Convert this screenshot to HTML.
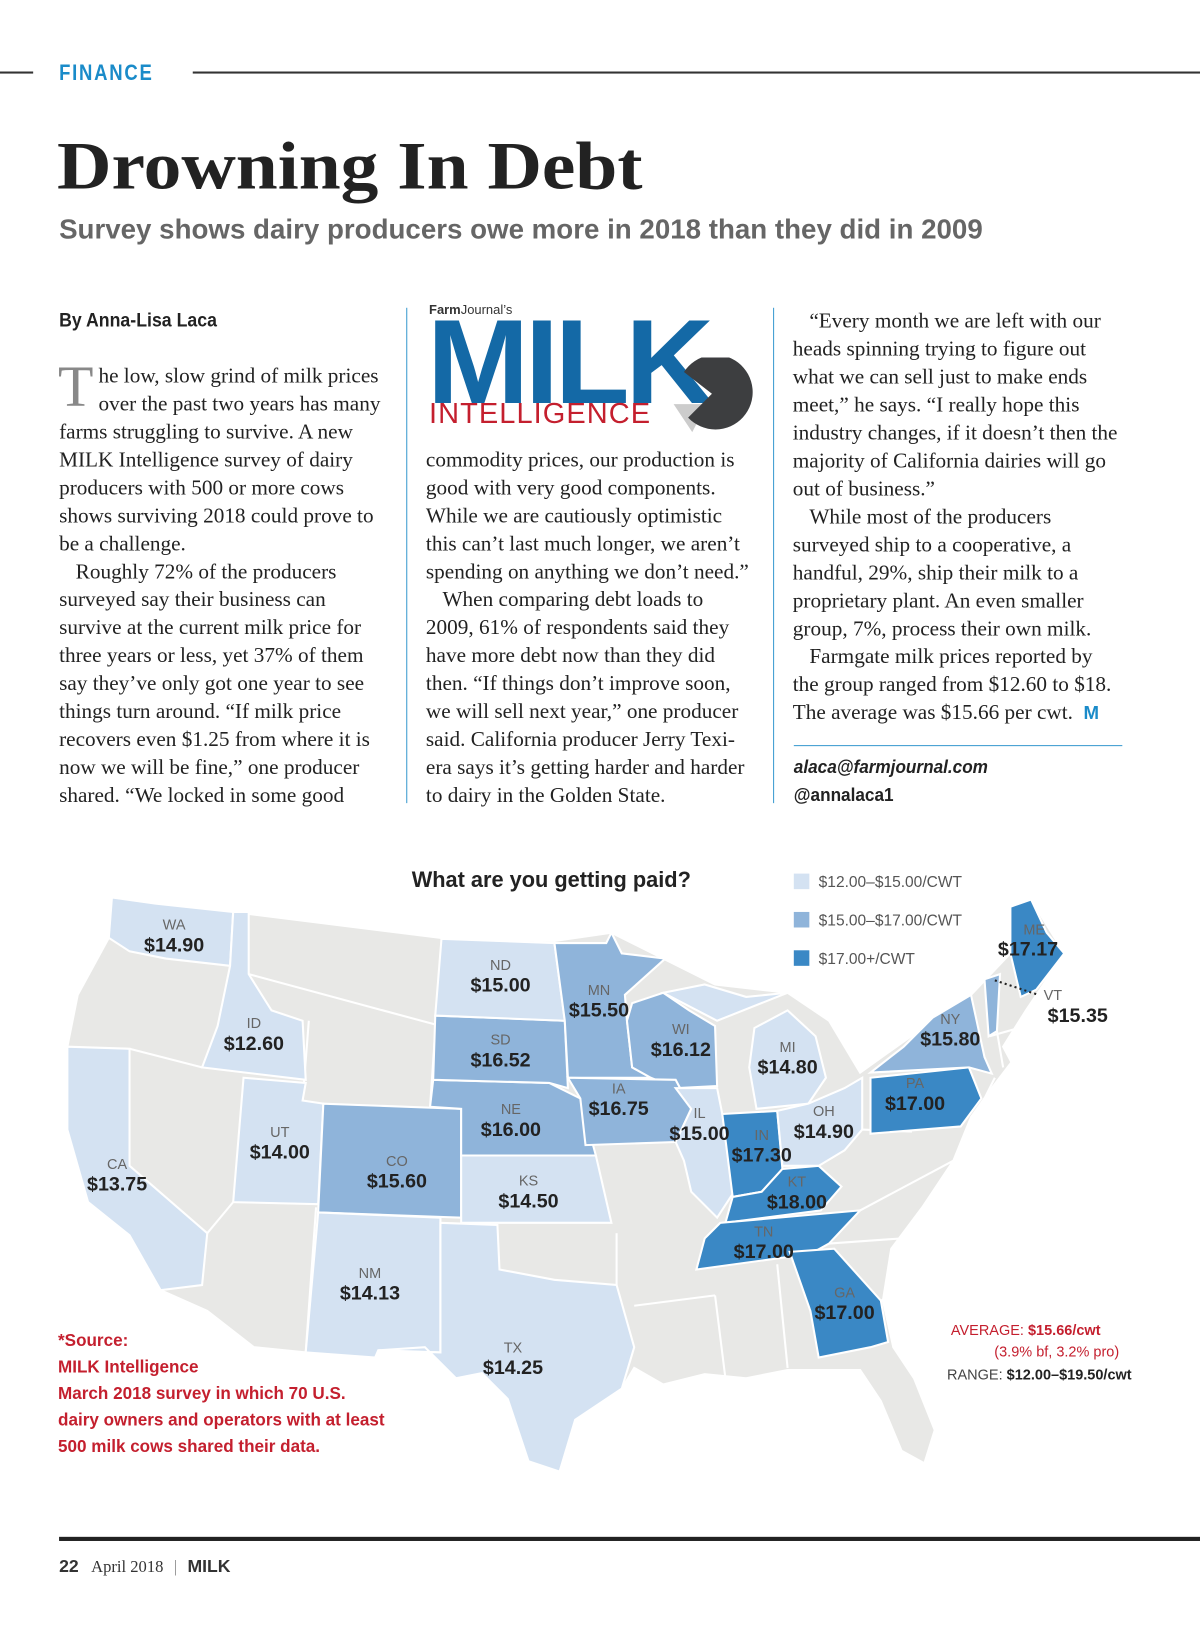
<!DOCTYPE html>
<html><head><meta charset="utf-8"><style>
html,body{margin:0;padding:0;background:#fff;}
body{width:1200px;height:1625px;overflow:hidden;position:relative;}
#page{position:absolute;left:0;top:0;width:1158px;height:1568px;transform:scale(1.0363);transform-origin:0 0;}
.abs{position:absolute;}
.serif{font-family:"Liberation Serif",serif;}
.sans{font-family:"Liberation Sans",sans-serif;}
.col{position:absolute;font-family:"Liberation Serif",serif;font-size:20.5px;line-height:27px;color:#222;white-space:nowrap;}
.col div{height:27px;}
.ind{padding-left:16px;}
</style></head><body>
<div id="page">
  <div class="abs" style="left:0;top:69px;width:32px;height:2px;background:#333"></div>
  <div class="abs sans" style="left:57px;top:59px;font-size:21px;letter-spacing:2px;color:#1a8bc9;font-weight:bold;transform:scaleX(0.85);transform-origin:0 0">FINANCE</div>
  <div class="abs" style="left:186px;top:69px;width:972px;height:2px;background:#333"></div>

  <div class="abs serif" style="left:55px;top:124px;font-size:65px;font-weight:bold;color:#222;letter-spacing:0px;transform:scaleX(1.12);transform-origin:0 0;white-space:nowrap">Drowning In Debt</div>
  <div class="abs sans" style="left:57px;top:206px;font-size:27px;color:#666;font-weight:bold;transform:scaleX(0.99);transform-origin:0 0;white-space:nowrap">Survey shows dairy producers owe more in 2018 than they did in 2009</div>

  <div class="abs sans" style="left:57px;top:299px;font-size:19px;font-weight:bold;color:#222;transform:scaleX(0.9);transform-origin:0 0">By Anna-Lisa Laca</div>

  <div class="abs" style="left:392px;top:297px;width:1px;height:478px;background:#3a9ad0"></div>
  <div class="abs" style="left:746px;top:297px;width:1px;height:478px;background:#3a9ad0"></div>

  <div class="col" style="left:57px;top:350px">
    <div><span class="serif" style="position:absolute;left:-1px;top:-4px;font-size:56px;line-height:56px;color:#888">T</span><span style="padding-left:38px">he low, slow grind of milk prices</span></div>
    <div style="padding-left:38px">over the past two years has many</div>
    <div>farms struggling to survive. A new</div>
    <div>MILK Intelligence survey of dairy</div>
    <div>producers with 500 or more cows</div>
    <div>shows surviving 2018 could prove to</div>
    <div>be a challenge.</div>
    <div class="ind">Roughly 72% of the producers</div>
    <div>surveyed say their business can</div>
    <div>survive at the current milk price for</div>
    <div>three years or less, yet 37% of them</div>
    <div>say they’ve only got one year to see</div>
    <div>things turn around. “If milk price</div>
    <div>recovers even $1.25 from where it is</div>
    <div>now we will be fine,” one producer</div>
    <div>shared. “We locked in some good</div>
  </div>

  <div class="abs" style="left:412px;top:290px;width:320px;height:130px">
    <div class="abs sans" style="left:2px;top:2px;font-size:12.5px;color:#333"><b>Farm</b>Journal’s</div>
    <div class="abs sans" style="left:0;top:-8px;font-size:116px;font-weight:900;color:#1469a6;letter-spacing:-4px;transform:scaleX(1.02);transform-origin:0 0">MILK</div>
    <div class="abs sans" style="left:2px;top:93px;font-size:28px;color:#c41f2e;letter-spacing:1px">INTELLIGENCE</div>
    <svg class="abs" style="left:230px;top:55px" width="90" height="80">
      <polygon points="8,45 40,45 26,72" fill="#ccc"/>
      <path d="M45,35 L18,14 A36,36 0 1,1 22,58 Z" fill="#3d3e40"/>
    </svg>
  </div>

  <div class="col" style="left:411px;top:431px">
    <div>commodity prices, our production is</div>
    <div>good with very good components.</div>
    <div>While we are cautiously optimistic</div>
    <div>this can’t last much longer, we aren’t</div>
    <div>spending on anything we don’t need.”</div>
    <div class="ind">When comparing debt loads to</div>
    <div>2009, 61% of respondents said they</div>
    <div>have more debt now than they did</div>
    <div>then. “If things don’t improve soon,</div>
    <div>we will sell next year,” one producer</div>
    <div>said. California producer Jerry Texi-</div>
    <div>era says it’s getting harder and harder</div>
    <div>to dairy in the Golden State.</div>
  </div>

  <div class="col" style="left:765px;top:297px">
    <div class="ind">“Every month we are left with our</div>
    <div>heads spinning trying to figure out</div>
    <div>what we can sell just to make ends</div>
    <div>meet,” he says. “I really hope this</div>
    <div>industry changes, if it doesn’t then the</div>
    <div>majority of California dairies will go</div>
    <div>out of business.”</div>
    <div class="ind">While most of the producers</div>
    <div>surveyed ship to a cooperative, a</div>
    <div>handful, 29%, ship their milk to a</div>
    <div>proprietary plant. An even smaller</div>
    <div>group, 7%, process their own milk.</div>
    <div class="ind">Farmgate milk prices reported by</div>
    <div>the group ranged from $12.60 to $18.</div>
    <div>The average was $15.66 per cwt. <b class="sans" style="color:#1a8bc9;font-size:18px">&nbsp;M</b></div>
  </div>
  <div class="abs" style="left:766px;top:719px;width:317px;height:1px;background:#3a9ad0"></div>
  <div class="abs sans" style="left:766px;top:730px;font-size:18px;font-weight:bold;font-style:italic;color:#222;transform:scaleX(0.92);transform-origin:0 0">alaca@farmjournal.com</div>
  <div class="abs sans" style="left:766px;top:757px;font-size:18px;font-weight:bold;color:#222;transform:scaleX(0.92);transform-origin:0 0">@annalaca1</div>

  <svg class="abs" id="map" style="left:0;top:0" width="1158" height="1568"></svg>

  <div class="abs" style="left:57px;top:1483px;width:1101px;height:4px;background:#222"></div>
  <div class="abs" style="left:57px;top:1502px;font-size:16px;color:#333;white-space:nowrap">
    <b class="sans" style="font-size:17px">22</b> <span class="serif" style="margin-left:8px">April 2018</span> <span style="color:#888;margin:0 6px">|</span> <b class="sans" style="font-size:17px;font-weight:900">MILK</b>
  </div>
</div>
<script>
const states = ["WA","ID","CA","UT","CO","NM","TX","KS","NE","SD","ND","MN","WI","IA","IL","IN","MI","OH","KT","TN","GA","PA","NY","VT","ME"];
const prices = [14.90,12.60,13.75,14.00,15.60,14.13,14.25,14.50,16.00,16.52,15.00,15.50,16.12,16.75,15.00,17.30,14.80,14.90,18.00,17.00,17.00,17.00,15.80,15.35,17.17];
const binEdges = [15.00,17.00];
const binLabels = ["$12.00–$15.00/CWT","$15.00–$17.00/CWT","$17.00+/CWT"];
const binColors = ["#d4e2f2","#8fb4da","#3a88c5"];

const shapes = {
 WA:"108,866 150,872 225,880 222,932 160,925 125,918 105,905",
 ID:"225,880 240,880 240,940 262,975 292,985 295,1042 195,1030 210,990 222,932",
 CA:"65,1010 125,1012 125,1125 200,1190 195,1240 155,1245 125,1192 85,1160 65,1090",
 UT:"235,1040 295,1045 292,1062 312,1065 307,1162 225,1160",
 CO:"312,1065 445,1070 445,1175 307,1170",
 NM:"307,1170 425,1175 425,1305 365,1303 362,1310 295,1305",
 TX:"425,1180 480,1182 482,1225 535,1235 595,1240 612,1300 600,1340 555,1370 540,1420 510,1410 490,1350 465,1325 440,1330 410,1300 365,1303 425,1305",
 KS:"445,1115 575,1115 590,1180 445,1180",
 NE:"418,1042 530,1045 560,1060 575,1115 445,1115 445,1070 415,1068",
 SD:"420,980 545,985 548,1050 530,1045 418,1042",
 ND:"426,906 535,910 545,985 420,980",
 MN:"535,910 585,910 590,900 600,920 642,925 603,960 605,985 610,1030 628,1040 548,1040 545,985",
 WI:"610,968 640,958 665,975 690,990 692,1048 652,1050 628,1040 610,1030 605,985",
 IA:"548,1040 652,1042 667,1070 652,1102 565,1105 560,1060",
 IL:"652,1050 692,1050 697,1075 707,1152 692,1175 667,1150 660,1120 652,1102 667,1070",
 IN:"697,1075 750,1072 755,1128 735,1150 707,1155",
 MI:"728,992 760,975 787,1000 797,1040 780,1065 730,1070 723,1030 M640,958 680,950 720,962 760,958 692,985",
 OH:"750,1072 780,1065 815,1050 832,1040 832,1090 815,1110 790,1125 755,1125",
 KT:"707,1155 735,1150 755,1128 790,1125 812,1145 792,1168 700,1180",
 TN:"695,1180 830,1168 800,1200 782,1210 672,1225 680,1195",
 GA:"762,1208 805,1205 850,1255 857,1295 840,1300 790,1310 782,1265",
 PA:"840,1040 935,1030 947,1060 927,1087 840,1094",
 NY:"840,1035 872,1010 900,982 937,960 950,1020 957,1036 935,1030",
 VT:"950,945 965,940 962,995 954,1000",
 ME:"975,875 995,868 1010,900 1027,920 1000,955 985,962 975,920"
};
const labelPos = {
 WA:[168,897],ID:[245,992],CA:[113,1128],UT:[270,1097],CO:[383,1125],NM:[357,1233],TX:[495,1305],
 KS:[510,1144],NE:[493,1075],SD:[483,1008],ND:[483,936],MN:[578,960],WI:[657,998],IA:[597,1055],
 IL:[675,1079],IN:[735,1100],MI:[760,1015],OH:[795,1077],KT:[769,1145],TN:[737,1193],GA:[815,1252],
 PA:[883,1050],NY:[917,988],VT:[1016,965],ME:[998,902]
};
const priceOffset = {VT:[24,21],ME:[-6,20]};
const outline = "108,865 225,880 425,905 535,908 590,900 640,925 690,950 760,958 800,985 830,1035 872,1005 937,960 975,920 975,875 995,868 1027,920 990,975 968,1010 976,1025 957,1050 937,1078 920,1120 890,1165 860,1205 852,1255 862,1300 882,1330 902,1380 892,1412 870,1400 850,1352 830,1322 790,1322 760,1322 720,1330 680,1326 640,1336 612,1320 600,1340 555,1370 540,1420 510,1410 490,1350 465,1325 440,1330 410,1300 365,1303 295,1305 245,1300 200,1265 155,1245 125,1192 85,1160 65,1090 65,1010 75,960 105,905";

const NS="http://www.w3.org/2000/svg";
const svg=document.getElementById('map');
function colorFor(p){let i=0;while(i<binEdges.length&&p>=binEdges[i]+ (i===0?0.0001:0))i++;return binColors[Math.min(i,2)];}
function mk(tag,attrs){const e=document.createElementNS(NS,tag);for(const k in attrs)e.setAttribute(k,attrs[k]);svg.appendChild(e);return e;}

const us=mk('polygon',{points:outline,fill:'#e8e8e6',stroke:'#fff','stroke-width':2});


const greyLines=["240,940 425,990","298,985 292,1062","420,995 415,1068","125,1012 195,1030","225,1160 200,1190","305,1165 295,1305","595,1190 595,1240","612,1260 690,1250","690,1250 700,1330","750,1220 760,1320","830,1168 920,1120","800,1200 870,1195","850,1255 862,1250","832,1090 880,1092","940,1080 960,1040","955,1000 990,990","962,995 968,1030"];
greyLines.forEach(l=>{const g=mk('polyline',{points:l,fill:'none',stroke:'#fff','stroke-width':2});

});

states.forEach((s,i)=>{
  const d=shapes[s].split(' M');
  d.forEach(pts=>{
    const p=mk('polygon',{points:pts.replace('M',''),fill:colorFor(prices[i]),stroke:'#fff','stroke-width':2});
    
    
  });
});
const ld=mk('line',{x1:960,y1:946,x2:1002,y2:960,stroke:'#222','stroke-width':2,'stroke-dasharray':'2,3'});



states.forEach((s,i)=>{
  const [x,y]=labelPos[s];
  const off=priceOffset[s]||[0,21];
  const a=mk('text',{x:x,y:y,'text-anchor':'middle','font-family':'Liberation Sans, sans-serif','font-size':14,fill:'#666'});
  a.textContent=s;
  
  
  const t=mk('text',{x:x+off[0],y:y+off[1],'text-anchor':'middle','font-family':'Liberation Sans, sans-serif','font-size':19,'font-weight':'bold',fill:'#222'});
  t.textContent='$'+prices[i].toFixed(2);
  
  
});

const title=mk('text',{x:532,y:856,'text-anchor':'middle','font-family':'Liberation Sans, sans-serif','font-size':21,'font-weight':'bold',fill:'#222'});
title.textContent='What are you getting paid?';



binLabels.forEach((lab,i)=>{
  const y=843+i*37;
  const r=mk('rect',{x:766,y:y,width:15,height:15,fill:binColors[i]});
  
  
  const t=mk('text',{x:790,y:y+13,'font-family':'Liberation Sans, sans-serif','font-size':15,fill:'#555'});
  t.textContent=lab;
  
  
});

const src=["*Source:","MILK Intelligence","March 2018 survey in which 70 U.S.","dairy owners and operators with at least","500 milk cows shared their data."];
src.forEach((l,i)=>{
  const t=mk('text',{x:56,y:1299+i*25.5,'font-family':'Liberation Sans, sans-serif','font-size':16.5,'font-weight':'bold',fill:'#c41f2e'});
  t.textContent=l;
  
  
});
function stat(x,y,parts,name){const t=mk('text',{x:x,y:y,'text-anchor':'end','font-family':'Liberation Sans, sans-serif','font-size':14});
 parts.forEach(p=>{const s=document.createElementNS(NS,'tspan');s.setAttribute('fill',p[1]);if(p[2])s.setAttribute('font-weight','bold');s.textContent=p[0];t.appendChild(s);});
 
 }
stat(1062,1288,[["AVERAGE: ","#c41f2e"],["$15.66/cwt","#c41f2e",1]],'average-stat');
stat(1080,1309,[["(3.9% bf, 3.2% pro)","#c41f2e"]],'average-composition');
stat(1092,1331,[["RANGE: ","#444"],["$12.00–$19.50/cwt","#222",1]],'range-stat');
</script>
</body></html>
